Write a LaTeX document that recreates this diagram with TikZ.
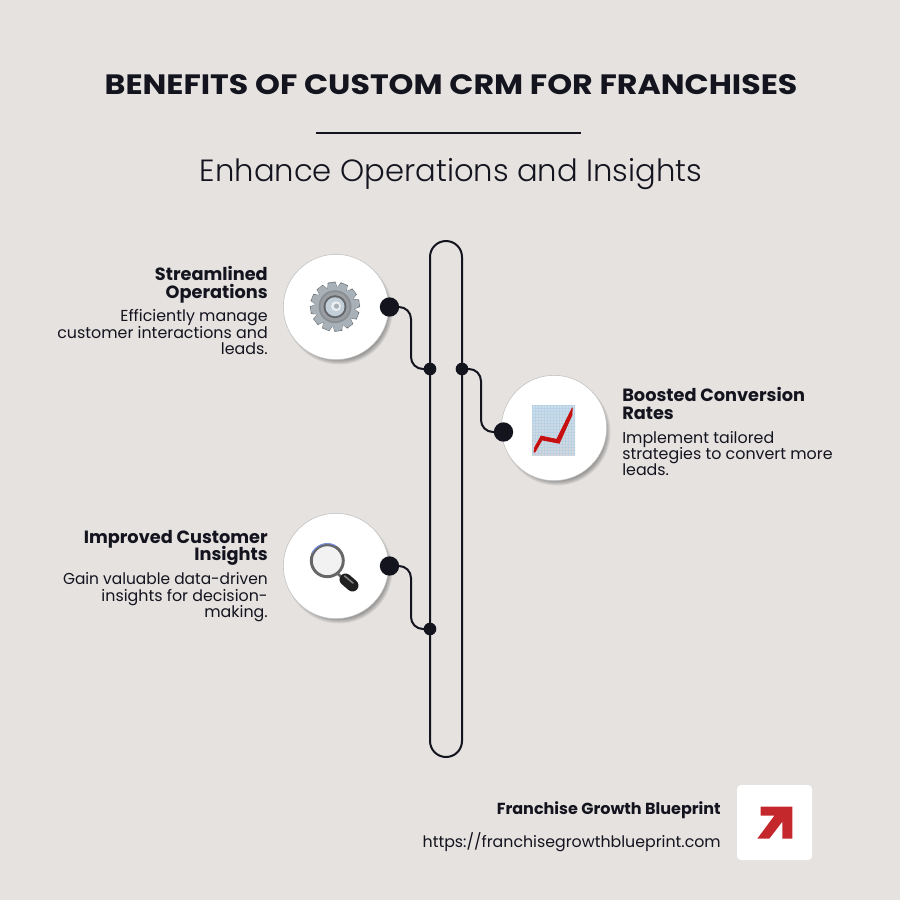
\documentclass[tikz,border=0pt]{standalone}
\usepackage{fontspec}
\setmainfont{Poppins}
\newfontfamily\lightf{Poppins Light}
\usetikzlibrary{calc}
\definecolor{bg}{HTML}{E5E2E0}
\definecolor{ink}{HTML}{14141F}
\definecolor{logored}{HTML}{C4282D}
\definecolor{gearA}{HTML}{A9B1B8}
\definecolor{gearB}{HTML}{8A8F94}
\definecolor{gearC}{HTML}{63676B}
\definecolor{gearD}{HTML}{9A9EA2}
\definecolor{gearE}{HTML}{C3CFD8}
\definecolor{gearF}{HTML}{E9EEF1}
\definecolor{chartT}{HTML}{C9DDEC}
\definecolor{chartB}{HTML}{D2D6DB}
\definecolor{chartG}{HTML}{A9CBE4}
\definecolor{chartR}{HTML}{C80F0F}
\newcommand{\fsz}[2]{\fontsize{#1}{#2}\selectfont\lineskiplimit=-20pt\relax}
\tikzset{
  x=0.75pt,y=-0.75pt,
  pill/.style={draw=ink,line width=1.5pt,rounded corners=12pt},
  link/.style={draw=ink,line width=1.5pt,rounded corners=9pt},
  bigdot/.style={circle,fill=ink,minimum size=14.5pt,inner sep=0pt},
  smalldot/.style={circle,fill=ink,minimum size=9.5pt,inner sep=0pt},
  disc/.style={circle,fill=white,draw=black!25,line width=0.4pt,minimum size=79pt,inner sep=0pt},
  head/.style={font=\bfseries\fsz{13.3}{12.8},text=ink,inner sep=0pt},
  body/.style={font=\fsz{11.9}{12.2},text=ink,inner sep=0pt},
}
\begin{document}
\begin{tikzpicture}
\useasboundingbox (0,0) rectangle (900,900);
\fill[bg] (0,0) rectangle (900,900);

% title
\node[font=\bfseries\fsz{21}{21},text=ink,inner sep=0pt,anchor=center] (title) at (451,84.5) {\scalebox{1.131}[1]{BENEFITS OF CUSTOM CRM FOR FRANCHISES}};
\coordinate (ruleL) at (316,132.5);
\coordinate (ruleR) at (581,132.5);
\draw[ink,line width=1.5pt] (ruleL) -- (ruleR);
\node[font=\lightf\fsz{23}{23},text=ink,inner sep=0pt] (subtitle) at (451,174) {Enhance Operations and Insights};

% pill
\draw[pill] (430,241) rectangle (462,757);

% shadows + discs
\foreach \cx/\cy in {336/307,554/428,336/566}{
  \foreach \r in {53.5,52.5,...,47.5}{
    \fill[black,opacity=0.07] (\cx+3,\cy+4) circle[radius=\r];
  }
}
\node[disc] (d1) at (336,307) {};
\node[disc] (d2) at (554,428) {};
\node[disc] (d3) at (336,566) {};

% gear
\begin{scope}[shift={(335,306.7)}]
  \foreach \a in {0,30,...,330}{
    \fill[rotate=\a+8,fill=gearB!80!black] (-5.5,-17) -- (-3.8,-24.8) -- (3.8,-24.8) -- (5.5,-17) -- cycle;
    \fill[rotate=\a+8,fill=gearA,rounded corners=0.8pt] (-5.2,-17) -- (-3.4,-24.2) -- (3.4,-24.2) -- (5.2,-17) -- cycle;
  }
  \fill[gearA] (0,0) circle[radius=19.5];
  \fill[gearB] (0,0) circle[radius=16.5];
  \fill[gearD] (0,0) circle[radius=14.5];
  \fill[gearC] (0,0) circle[radius=11.5];
  \fill[gearE] (0,0) circle[radius=9.5];
  \fill[gearF] (1,-0.5) circle[radius=5];
  \fill[gearA] (1.5,-0.5) circle[radius=2.6];
\end{scope}

% chart
\begin{scope}
  \shade[top color=chartT,bottom color=chartB] (532.3,405) rectangle (575,455.7);
  \foreach \i in {0,1,...,14}{
    \draw[chartG,line width=0.2pt,opacity=.45] (532.3+\i*3,405) -- (532.3+\i*3,455.7);
  }
  \foreach \i in {0,1,...,16}{
    \draw[chartG,line width=0.2pt,opacity=.45] (532.3,405+\i*3) -- (575,405+\i*3);
  }
  \filldraw[chartR,line width=0.5pt,line join=round] (534,452.3) -- (534.7,447.3) -- (541,436) -- (556.7,439.3) -- (572.3,407.7) -- (572,415) -- (559.3,443.3) -- (542,440) -- (535.3,451.7) -- cycle;
\end{scope}

% magnifier
\begin{scope}
  \draw[black!60,line width=2pt] (338,574) -- (344,579);
  \draw[black!88,line width=9pt,line cap=round] (345.5,579.5) -- (352.5,585.5);
  \draw[black!50,line width=1.2pt,line cap=round] (344.5,576) -- (353,583);
  \fill[black!5] (327.3,560.7) circle[radius=15];
  \draw[black!60,line width=2.2pt] (327.3,560.7) circle[radius=16];
  \draw[chartG!70!blue,line width=0.7pt] (312,553) arc[start angle=207,end angle=300,radius=17.3];
\end{scope}

% connectors
\coordinate (s1c) at (430,369);
\coordinate (s2c) at (462,369);
\coordinate (s3c) at (430,629);
\node[bigdot] (b1) at (389.5,307) {};
\node[bigdot] (b2) at (503.5,432) {};
\node[bigdot] (b3) at (389.5,566) {};
\node[smalldot] (s1) at (s1c) {};
\node[smalldot] (s2) at (s2c) {};
\node[smalldot] (s3) at (s3c) {};
\coordinate (m1) at (411,338);
\coordinate (m2) at (481,400);
\coordinate (m3) at (411,597);
\draw[link] (b1.center) -| (m1) |- (s1.center);
\draw[link] (s2.center) -| (m2) |- (b2.center);
\draw[link] (b3.center) -| (m3) |- (s3.center);

% left text
\node[head,anchor=north east,align=right] (h1) at (268,266.5) {Streamlined\\Operations};
\node[body,anchor=north east,align=right] (t1) at (268,309.5) {Efficiently manage\\customer interactions and\\leads.};
\node[head,anchor=north east,align=right] (h3) at (268,530) {Improved Customer\\Insights};
\node[body,anchor=north east,align=right] (t3) at (268,572.5) {\scalebox{0.972}[1]{Gain valuable data-driven}\\insights for decision-\\making.};
% right text
\node[head,anchor=north west,align=left] (h2) at (622,387.5) {Boosted Conversion\\Rates};
\node[body,anchor=north west,align=left] (t2) at (622,431) {Implement tailored\\strategies to convert more\\leads.};

% footer
\node[font=\bfseries\fsz{12}{12},text=ink,inner sep=0pt,anchor=east] (brand) at (721,810) {Franchise Growth Blueprint};
\node[font=\fsz{11.85}{11.85},text=ink,inner sep=0pt,anchor=east] (url) at (721,842) {https://franchisegrowthblueprint.com};
\fill[white,rounded corners=3pt] (737,785) rectangle (812,860);
\fill[logored] (760.7,806.7) -- (792.3,806.7) -- (792.3,838.7) -- (782.3,838.7) -- (782.3,821.7) -- (769.3,838.7) -- (757.3,838.7) -- (774.3,815.7) -- (760.7,815.7) -- cycle;
\end{tikzpicture}
\end{document}
